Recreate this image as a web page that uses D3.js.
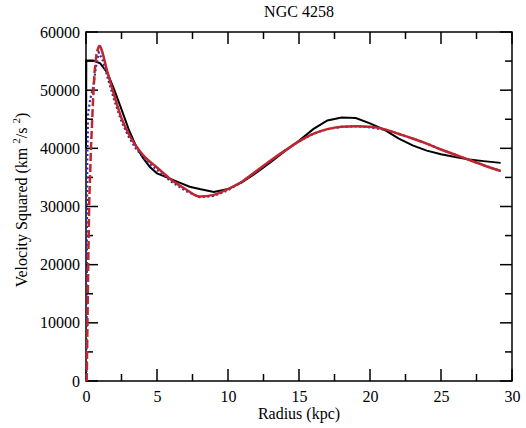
<!DOCTYPE html>
<html>
<head>
<meta charset="utf-8">
<script src="https://cdn.jsdelivr.net/npm/d3@7"></script>
<style>
  body { margin: 0; background: #fff; }
  svg { display: block; font-family: "Liberation Serif", "Times New Roman", serif; }
</style>
</head>
<body>
<div id="chart"></div>
<script>
// observed rotation curve (black)
const obsR = [0, 0.02, 0.5, 1.0, 1.5, 2.0, 2.5, 3.0, 3.5, 4.0, 4.5, 5, 5.7, 6.5, 7.3, 8, 9, 10, 11, 12, 13, 14, 15, 16, 17, 18, 19, 20, 21, 22, 23, 24, 25, 26, 27, 28, 29.2];
const obsV = [40000, 55100, 55100, 54600, 53000, 50000, 46700, 43300, 40500, 38400, 36800, 35700, 35000, 34200, 33400, 33000, 32500, 33000, 34200, 35800, 37600, 39500, 41300, 43300, 44800, 45300, 45200, 44300, 43200, 41700, 40500, 39600, 39000, 38500, 38100, 37800, 37500];

// model 1 (blue dotted)
const blueR = [0.03, 0.06, 0.09, 0.15, 0.3, 0.5, 0.7, 0.9, 1.2, 1.6, 2.0, 2.5, 3, 3.5, 4, 4.5, 5, 6, 7, 8, 9, 10, 11, 12, 13, 14, 15, 16, 17, 18, 19, 20, 21, 22, 23, 24, 25, 26, 27, 28, 29.2];
const blueV = [0, 20000, 38000, 46000, 48500, 50500, 54000, 56500, 55000, 51500, 48200, 44600, 42000, 40000, 38500, 37300, 36300, 34300, 32700, 31600, 31800, 32800, 34200, 36000, 37800, 39600, 41200, 42500, 43300, 43700, 43800, 43600, 43200, 42500, 41700, 40800, 39800, 38900, 38000, 37100, 36100];

// model 2 (red dashed), rising part and the rest
const redRiseR = [0.05, 0.16, 0.23, 0.35, 0.5, 0.6, 0.75, 0.93];
const redRiseV = [0, 20800, 31100, 40000, 48500, 53000, 56500, 57700];
const redR = [0.93, 1.0, 1.5, 2.0, 2.5, 3.0, 3.5, 4.0, 4.5, 5, 6, 7, 8, 9, 10, 11, 12, 13, 14, 15, 16, 17, 18, 19, 20, 21, 22, 23, 24, 25, 26, 27, 28, 29.2];
const redV = [57700, 57500, 53200, 49000, 45200, 42500, 40500, 38900, 37700, 36700, 34600, 33000, 31700, 32000, 33000, 34300, 36100, 37900, 39600, 41200, 42500, 43300, 43700, 43800, 43700, 43300, 42500, 41700, 40800, 39800, 38900, 38000, 37100, 36100];

const xMajor = [0, 5, 10, 15, 20, 25, 30];
const xMinor = [2.5, 7.5, 12.5, 17.5, 22.5, 27.5];
const yMajor = [0, 10000, 20000, 30000, 40000, 50000, 60000];
const yMinor = [5000, 15000, 25000, 35000, 45000, 55000];

const W = 526, H = 428;
const margin = { top: 32, right: 14, bottom: 47, left: 86 };
const width = W - margin.left - margin.right;
const height = H - margin.top - margin.bottom;

const svg = d3.select('#chart').append('svg')
    .attr('width', W)
    .attr('height', H);

const g = svg.append('g')
    .attr('transform', `translate(${margin.left},${margin.top})`);

const x = d3.scaleLinear().domain([0, 30]).range([0, width]);
const y = d3.scaleLinear().domain([0, 60000]).range([height, 0]);

// tick labels
g.append('g')
    .attr('transform', `translate(0,${height})`)
    .call(d3.axisBottom(x).tickValues(xMajor).tickSize(0).tickPadding(9.6).tickFormat(d3.format('d')));
g.append('g')
    .call(d3.axisLeft(y).tickValues(yMajor).tickSize(0).tickPadding(6).tickFormat(d3.format('d')));
g.selectAll('.domain').remove();
g.selectAll('.tick text')
    .attr('fill', '#000')
    .style('font-family', '"Liberation Serif", serif')
    .style('font-size', '16px');

// inward tick marks on all four sides
const tickG = g.append('g').attr('stroke', '#000').attr('stroke-width', 1.5);
const xt = xMajor.map(v => [v, 12]).concat(xMinor.map(v => [v, 7]));
const yt = yMajor.map(v => [v, 12]).concat(yMinor.map(v => [v, 7]));

tickG.selectAll('.xb').data(xt).join('line')
    .attr('x1', d => x(d[0])).attr('x2', d => x(d[0]))
    .attr('y1', height).attr('y2', d => height - d[1]);
tickG.selectAll('.xt').data(xt).join('line')
    .attr('x1', d => x(d[0])).attr('x2', d => x(d[0]))
    .attr('y1', 0).attr('y2', d => d[1]);
tickG.selectAll('.yl').data(yt).join('line')
    .attr('y1', d => y(d[0])).attr('y2', d => y(d[0]))
    .attr('x1', 0).attr('x2', d => d[1]);
tickG.selectAll('.yr').data(yt).join('line')
    .attr('y1', d => y(d[0])).attr('y2', d => y(d[0]))
    .attr('x1', width).attr('x2', d => width - d[1]);

g.append('rect')
    .attr('width', width)
    .attr('height', height)
    .attr('fill', 'none')
    .attr('stroke', '#000')
    .attr('stroke-width', 1.5);

// curves
const line = d3.line()
    .x(d => x(d[0]))
    .y(d => y(d[1]));
const smooth = d3.line()
    .x(d => x(d[0]))
    .y(d => y(d[1]))
    .curve(d3.curveMonotoneX);

const zip = (a, b) => a.map((v, i) => [v, b[i]]);

g.append('path')
    .datum(zip(obsR, obsV))
    .attr('fill', 'none')
    .attr('stroke', '#000')
    .attr('stroke-width', 2)
    .attr('d', line);

g.append('path')
    .datum(zip(blueR, blueV))
    .attr('fill', 'none')
    .attr('stroke', '#2a2ea0')
    .attr('stroke-width', 2.2)
    .attr('stroke-dasharray', '2,2.5')
    .attr('d', line);

g.append('path')
    .datum(zip(redRiseR, redRiseV))
    .attr('fill', 'none')
    .attr('stroke', '#c0262e')
    .attr('stroke-width', 2.5)
    .attr('stroke-dasharray', '8,3')
    .attr('d', line);

g.append('path')
    .datum(zip(redR, redV))
    .attr('fill', 'none')
    .attr('stroke', '#c0262e')
    .attr('stroke-width', 2.5)
    .attr('d', smooth);

// titles
svg.append('text')
    .attr('x', margin.left + width / 2)
    .attr('y', 17)
    .attr('text-anchor', 'middle')
    .style('font-size', '16px')
    .text('NGC 4258');

svg.append('text')
    .attr('x', margin.left + width / 2)
    .attr('y', 419)
    .attr('text-anchor', 'middle')
    .style('font-size', '16px')
    .text('Radius (kpc)');

const ylab = svg.append('text')
    .attr('transform', 'translate(27,200) rotate(-90)')
    .attr('text-anchor', 'middle')
    .style('font-size', '16px');
ylab.append('tspan').text('Velocity Squared (km ');
ylab.append('tspan').attr('dy', -7).style('font-size', '11px').text('2');
ylab.append('tspan').attr('dy', 7).text('/s ');
ylab.append('tspan').attr('dy', -7).style('font-size', '11px').text('2');
ylab.append('tspan').attr('dy', 7).text(')');
</script>
</body>
</html>
